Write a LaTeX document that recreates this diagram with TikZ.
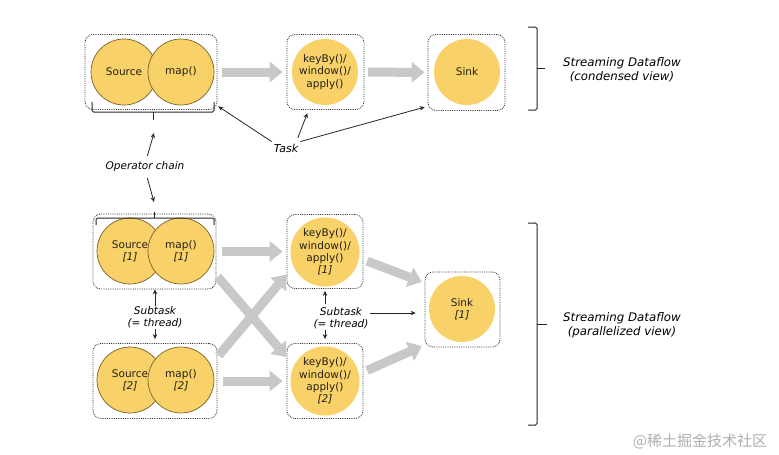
\documentclass[tikz,border=0pt]{standalone}
\usepackage{fontspec}
\setmainfont{DejaVu Sans}
\newfontfamily\cjkfont{Noto Sans CJK SC}
\usetikzlibrary{arrows.meta,calc}
\definecolor{opyellow}{RGB}{248,210,104}
\definecolor{opedge}{RGB}{120,96,40}
\definecolor{flowgray}{RGB}{200,200,200}
\definecolor{boxline}{RGB}{50,50,50}
\definecolor{wmgray}{RGB}{175,175,175}
\definecolor{txt}{RGB}{35,30,20}
\begin{document}
\begin{tikzpicture}[x=1pt,y=-1pt,
  taskbox/.style={draw=boxline, densely dotted, line width=0.8pt, rounded corners=8pt, inner sep=0pt},
  op/.style={circle, fill=opyellow, minimum size=66pt, inner sep=0pt, align=center, text=txt, font=\fontsize{10.5}{12.3}\selectfont},
  chainop/.style={op, draw=opedge, line width=0.7pt},
  flow/.style={draw=flowgray, line width=9pt, -{Triangle[length=13pt,width=20pt]}},
  lbl/.style={font=\fontsize{10.5}{12}\selectfont\itshape, align=center, inner sep=1pt},
  biglbl/.style={font=\fontsize{11.8}{14}\selectfont\itshape, align=center},
  ptr/.style={draw=black!85, line width=0.8pt, -{Stealth[length=5pt,width=4.5pt]}},
  brk/.style={draw=black!85, line width=1pt, rounded corners=1.5pt},
]
\useasboundingbox (0,0) rectangle (779,455);
\fill[white] (0,0) rectangle (779,455);

% ---------- condensed view ----------
\node[taskbox, minimum width=132pt, minimum height=75pt] (T1) at (151,72) {};
\node[chainop] (src) at (124,72) {Source};
\node[chainop] (map) at (181,72) {map()};

\node[taskbox, minimum width=77pt, minimum height=75pt] (T2) at (325.5,72) {};
\node[op] (kb) at (325,72) {keyBy()/\\window()/\\apply()};

\node[taskbox, minimum width=77pt, minimum height=76pt] (T3) at (466.5,72.5) {};
\node[op] (sink) at (467,72) {Sink};

\draw[flow, shorten <=5pt, shorten >=4pt] (T1) -- (T2);
\draw[flow, shorten <=3.5pt, shorten >=3pt] (T2) -- (T3);

% bracket under chain
\draw[brk] (92,102) -- (92,112) -- (214,112) -- (214,102);
\draw[brk] (153,112) -- (153,120);

% Task pointers
\node[lbl, font=\fontsize{11}{12}\selectfont\itshape, inner sep=2pt] (task) at (286,148) {Task};
\draw[ptr, shorten >=1pt] (task.north west) -- (T1.-27);
\draw[ptr, shorten <=4pt, shorten >=3.5pt] ([xshift=-4pt]task.north east) -- (T2.-114);
\draw[ptr, shorten >=3pt] (task.north east) -- (T3.-139);

% Operator chain
\node[lbl] (oc) at (145,167) {Operator chain};
\coordinate (tbtip) at (154,133);
\coordinate (lbtip) at (154,202);
\draw[ptr, shorten <=5pt] ([xshift=1pt]oc.north) -- (tbtip);
\draw[ptr, shorten <=5pt] ([xshift=1pt]oc.south) -- (lbtip);

% right brace top
\draw[brk] (528,27) -- (537,27) -- (537,110) -- (528,110);
\draw[brk] (537,68) -- (545,68);
\node[biglbl] (sd1) at (622,70) {Streaming Dataflow\\(condensed view)};

% ---------- parallelized view ----------
\node[taskbox, minimum width=123pt, minimum height=75pt] (B1a) at (154.5,251.5) {};
\node[chainop] (src1) at (130,251) {Source\\\textit{[1]}};
\node[chainop] (map1) at (181,251) {map()\\\textit{[1]}};

\node[taskbox, minimum width=124pt, minimum height=75pt] (B1b) at (155,381) {};
\node[chainop] (src2) at (130,380) {Source\\\textit{[2]}};
\node[chainop] (map2) at (181,380) {map()\\\textit{[2]}};

\node[taskbox, minimum width=76pt, minimum height=74pt] (B2a) at (325,251.5) {};
\node[op] (kb1) at (325,252) {keyBy()/\\window()/\\apply()\\\textit{[1]}};

\node[taskbox, minimum width=76pt, minimum height=75pt] (B2b) at (325,381) {};
\node[op] (kb2) at (325,381) {keyBy()/\\window()/\\apply()\\\textit{[2]}};

\node[taskbox, minimum width=75pt, minimum height=75pt] (S1) at (462.5,309.5) {};
\node[op] (sink1) at (462,309) {Sink\\\textit{[1]}};

% lower bracket on top of chain
\draw[brk] (96,225) -- (96,218) -- (214,218) -- (214,225);
\draw[brk] (154,218) -- (154,212);

% data flows
\draw[flow, shorten <=6pt, shorten >=4pt] (B1a) -- (B2a);
\draw[flow, shorten <=6pt, shorten >=4pt] (B1b) -- (B2b);
\draw[flow, shorten <=2pt] (B1a.-21) -- (B2b.148);
\draw[flow, shorten <=2pt] (B1b.21) -- (B2a.-149);
\draw[flow, shorten <=4pt, shorten >=3pt] (B2a.-12) -- (S1.145);
\draw[flow, shorten <=4pt, shorten >=3pt] (B2b.13) -- (S1.-137);

% subtask labels
\node[lbl] (sub1) at (155,317.5) {Subtask\\(= thread)};
\draw[ptr] (sub1) -- (sub1 |- B1a.south);
\draw[ptr, shorten >=4pt] (sub1) -- (sub1 |- B1b.north);

\node[lbl] (sub2) at (341,318) {Subtask\\(= thread)};
\draw[ptr, shorten <=2pt, shorten >=2pt] (sub2.north -| B2a) -- (B2a.south);
\draw[ptr, shorten >=4pt] (sub2.south -| B2b) -- (B2b.north);
\coordinate (subr) at ([yshift=5pt]sub2.east);
\draw[ptr, shorten >=9pt] (subr) -- (subr -| S1.west);

% right brace bottom
\draw[brk] (528,223) -- (537,223) -- (537,425) -- (528,425);
\draw[brk] (537,324) -- (547,324);
\node[biglbl] (sd2) at (622,325) {Streaming Dataflow\\(parallelized view)};

% watermark
\node[font=\cjkfont\fontsize{15}{15}\selectfont, text=wmgray, inner sep=0pt] (wm) at (700,441) {@稀土掘金技术社区};
\end{tikzpicture}
\end{document}
